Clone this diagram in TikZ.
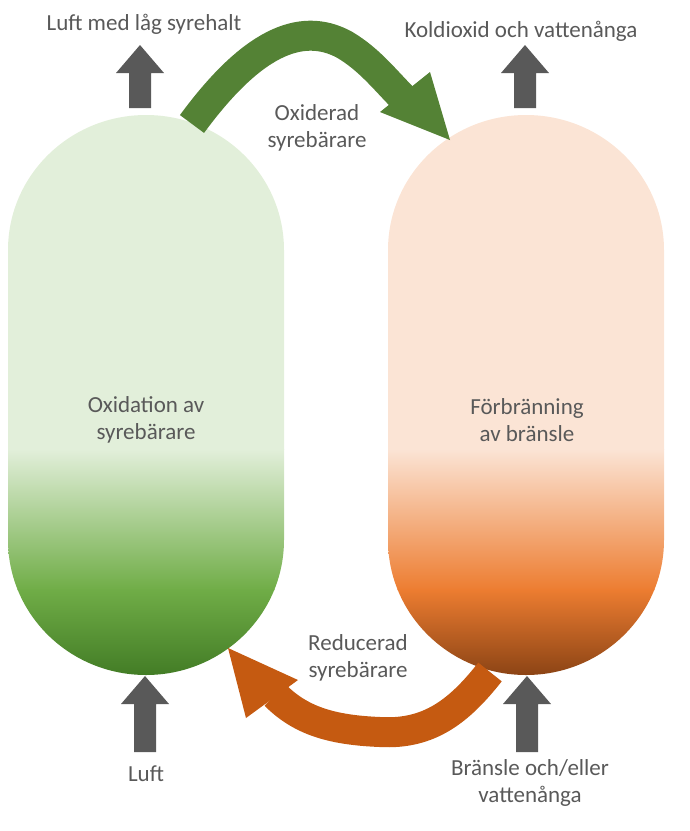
\documentclass[tikz,border=0pt]{standalone}
\usepackage{fontspec}
\setmainfont{Carlito}
\usetikzlibrary{arrows.meta}
\definecolor{txt}{HTML}{595959}
\definecolor{gl}{HTML}{E2EFDA}
\definecolor{gm}{HTML}{70AD47}
\definecolor{gd}{HTML}{3B7420}
\definecolor{ol}{HTML}{FBE4D5}
\definecolor{om}{HTML}{ED7D31}
\definecolor{od}{HTML}{7B3A10}
\definecolor{garr}{HTML}{548235}
\definecolor{oarr}{HTML}{C55A11}
\tikzset{lbl/.style={text=txt,font=\fontsize{23}{27}\selectfont,align=center},
 blk/.style={fill=txt,draw=none}}
\newcommand{\capsule}[1]{(#1,250) arc[start angle=180,end angle=360,x radius=138,y radius=135] -- ++(0,290) arc[start angle=0,end angle=180,x radius=138,y radius=135] -- cycle}
\newcommand{\uparr}[3]{\fill[txt] (#1-11,#2) -- (#1-11,#3+28) -- (#1-24,#3+28) -- (#1,#3) -- (#1+24,#3+28) -- (#1+11,#3+28) -- (#1+11,#2) -- cycle;}
\begin{document}
\begin{tikzpicture}[x=1pt,y=-1pt]
\useasboundingbox (0,0) rectangle (690,831);
\begin{scope}
\clip \capsule{8};
\fill[gl] (0,100) rectangle (300,450);
\shade[top color=gl,bottom color=gm] (0,449) rectangle (300,590);
\shade[top color=gm,bottom color=gd] (0,589) rectangle (300,690);
\end{scope}
\begin{scope}
\clip \capsule{388};
\fill[ol] (380,100) rectangle (680,450);
\shade[top color=ol,bottom color=om] (380,449) rectangle (680,590);
\shade[top color=om,bottom color=od] (380,589) rectangle (680,690);
\end{scope}
\node[lbl] (ox) at (146,420) {Oxidation av\\syrebärare};
\node[lbl] (fb) at (527,420) {Förbränning\\av bränsle};
% gray arrows
\uparr{140}{108}{45}
\uparr{525}{108}{45}
\uparr{145}{752}{676}
\uparr{527}{752}{676}
\node[lbl] (t1) at (144,24) {Luft med låg syrehalt};
\node[lbl] (t2) at (521,31) {Koldioxid och vattenånga};
\node[lbl] (b1) at (146,774) {Luft};
\node[lbl] (b2) at (530,783) {Bränsle och/eller\\vattenånga};
% green arrow
\draw[garr,line width=30pt] (192,124) .. controls (250,45) and (300,20) .. (345,45) .. controls (370,60) and (385,80) .. (405,100);
\fill[garr] (380,112) -- (450,140) -- (430,72) -- cycle;
\node[lbl] (o1) at (317,128) {Oxiderad\\syrebärare};
% orange arrow
\draw[oarr,line width=30pt] (490,672) .. controls (460,710) and (430,735) .. (380,732) .. controls (330,730) and (300,720) .. (275,695);
\fill[oarr] (298,680) -- (228,648) -- (246,718) -- cycle;
\node[lbl] (r1) at (358,658) {Reducerad\\syrebärare};
\end{tikzpicture}
\end{document}
